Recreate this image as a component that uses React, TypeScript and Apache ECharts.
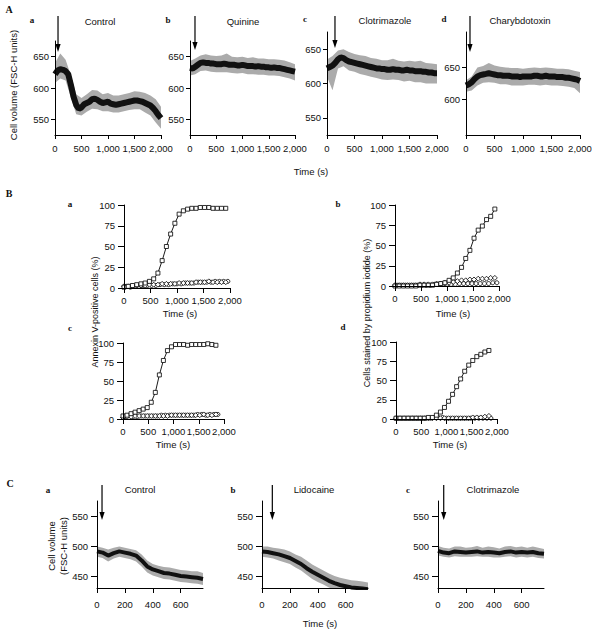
import React, { useEffect, useRef } from 'react';
import * as echarts from 'echarts';

// ---------- Panel A data (cell volume, FSC-H units) ----------
const timesA = [0,50,100,150,200,250,300,350,400,450,500,550,600,650,700,750,800,850,900,950,1000,1050,1100,1150,1200,1250,1300,1350,1400,1450,1500,1550,1600,1650,1700,1750,1800,1850,1900,1950,2000];
const centerAa = [622,628,630,629,627,622,605,586,573,567,569,574,576,578,582,583,581,578,576,577,578,575,574,573,574,575,576,577,578,579,580,580,579,578,576,574,572,568,563,557,552];
const centerAb = [632,631,634,637,640,641,640,640,639,639,638,638,638,639,638,637,637,637,636,636,637,636,635,635,635,634,635,634,634,633,633,632,633,632,632,631,630,629,628,627,626];
const centerAc = [622,624,626,630,635,638,637,634,632,631,630,629,628,627,626,625,624,623,622,622,621,621,620,620,621,620,620,619,619,620,619,619,618,618,618,617,617,616,616,615,615];
const centerAd = [622,624,627,632,636,638,639,640,641,640,639,638,638,637,637,637,636,636,636,635,636,636,636,636,637,637,636,636,637,636,636,636,635,635,635,634,634,633,632,631,629];

const bandTimesA = [0,100,200,300,400,500,600,700,800,900,1000,1100,1200,1300,1400,1500,1600,1700,1800,1900,2000];
const lowAa = [608,615,612,585,558,556,562,567,566,563,563,561,561,563,565,566,566,561,556,545,535];
const highAa = [640,655,645,620,590,584,590,597,596,590,592,588,588,590,592,595,594,592,588,582,570];
const lowAb = [620,622,627,628,626,625,625,625,624,623,624,622,622,621,621,620,620,619,617,615,612];
const highAb = [643,647,652,654,652,651,652,655,650,649,650,648,649,647,647,646,646,645,644,641,638];
const lowAc = [610,590,622,625,619,617,614,612,610,608,606,605,606,605,603,604,602,602,600,600,600];
const highAc = [635,640,648,650,646,643,641,640,637,636,634,634,636,633,632,633,632,633,630,629,628];
const lowAd = [612,614,622,626,627,626,624,624,622,622,622,623,623,622,623,622,622,621,620,618,610];
const highAd = [630,636,650,652,657,653,651,650,649,649,648,649,650,649,650,649,648,648,647,645,643];

const titlesA = ['Control', 'Quinine', 'Clotrimazole', 'Charybdotoxin'];
const arrowTimesA = [57, 95, 145, 70];

// ---------- Panel B data (% cells) ----------
const timesB = [0,80,160,240,320,400,480,560,640,720,800,880,960,1040,1120,1200,1280,1360,1440,1520,1600,1680,1760,1840,1920];
const timesB2 = [40,120,200,280,360,440,520,600,680,760,840,920,1000,1080,1160,1240,1320,1400,1480,1560,1640,1720,1800,1880,1960];
const sqBa = [1,2,3,4,5,6,8,11,18,33,50,65,78,89,93,95,96,96,97,97,97,96,96,96,96];
const diaBa = [2,2,2,3,3,3,4,4,4,5,5,5,5,6,6,6,6,7,7,7,8,7,7,7,7];
const cirBa = [2,1,2,2,3,3,3,3,4,4,4,5,5,5,6,6,6,7,7,7,7,8,8,8,8];
const sqBb = [0,0,0,0,0,0,1,1,1,1,2,3,4,7,10,16,23,34,44,59,69,74,82,86,95];
const diaBb = [1,1,1,1,1,1,2,2,2,2,3,3,4,4,5,6,7,7,8,8,9,9,9,10,10];
const cirBb = [1,1,1,1,1,1,1,1,1,2,2,2,2,2,2,3,3,3,3,3,3,3,3,4,4];
const sqBc = [4,5,7,9,11,13,15,22,35,58,77,90,95,98,98,98,97,98,98,98,98,99,98,97];
const diaBc = [2,3,3,4,4,4,4,4,4,4,4,4,5,5,5,5,5,5,5,5,6,5,5,6];
const cirBc = [3,2,3,3,4,4,4,4,4,5,5,5,5,5,5,5,5,5,6,6,5,6,6,6];
const sqBd = [1,1,1,1,1,1,1,1,2,2,5,9,15,23,32,42,52,62,70,76,81,84,87,89];
const diaBd = [1,1,1,1,1,1,1,1,1,1,1,1,1,1,1,1,1,1,1,2,2,2,3,4];
const cirBd = [1,1,1,1,1,1,1,1,1,2,2,2,1,1,1,1,1,1,1,1,1,1,1,1];

// ---------- Panel C data (cell volume) ----------
const timesC = [0,40,80,120,160,200,240,280,320,360,400,440,480,520,560,600,640,680,720,760];
const centerCa = [491,489,484,488,491,489,487,484,476,466,461,458,455,454,452,450,449,448,447,445];
const lowCa = [482,480,474,479,482,480,478,474,466,456,451,448,445,444,442,440,439,438,437,435];
const highCa = [499,497,494,497,499,497,495,493,486,476,470,467,465,464,462,460,459,458,458,455];
const centerCb = [491,490,488,486,483,480,475,470,463,457,452,447,442,438,435,433,431,430,429,428];
const lowCb = [482,481,479,476,473,470,464,459,452,445,440,436,431,427,424,422,421,420,419,418];
const highCb = [499,499,497,496,494,491,486,482,476,469,464,459,454,450,447,445,443,442,441,439];
const centerCc = [492,489,488,491,490,489,490,491,489,490,489,488,490,491,489,490,489,490,488,487];
const lowCc = [484,482,481,483,482,482,482,483,482,482,481,481,482,483,481,482,481,482,480,479];
const highCc = [500,497,496,499,499,497,498,500,497,499,498,496,499,500,498,499,497,499,497,495];

const titlesC = ['Control', 'Lidocaine', 'Clotrimazole'];
const arrowTimesC = [36, 74, 41];

// ---------- tick values ----------
const ticksAxTime = [0, 500, 1000, 1500, 2000];
const ticksAyVol = [550, 600, 650];
const ticksAdVol = [600, 650];
const ticksBy = [0, 25, 50, 75, 100];
const ticksCx = [0, 200, 400, 600];
const ticksCy = [450, 500, 550];

const FONT = '"Liberation Sans", Arial, Helvetica, sans-serif';
const SERIF = '"Liberation Serif", "Times New Roman", serif';

export default function App() {
  const ref = useRef<HTMLDivElement>(null);
  useEffect(() => {
    document.body.style.margin = '0';
    const chart = echarts.init(ref.current!, null, { renderer: 'svg' });

    const grids = [
      { left: 55, top: 41, width: 106, height: 94 },
      { left: 190, top: 41, width: 105, height: 94 },
      { left: 327, top: 32, width: 110, height: 103 },
      { left: 466, top: 32, width: 114, height: 103 },
      { left: 124, top: 205, width: 106, height: 83 },
      { left: 395, top: 205, width: 104, height: 81 },
      { left: 123, top: 343, width: 101, height: 76 },
      { left: 396, top: 342, width: 101, height: 77 },
      { left: 97, top: 501, width: 106, height: 87 },
      { left: 262, top: 501, width: 106, height: 87 },
      { left: 438, top: 501, width: 106, height: 87 },
    ].map((g) => ({ ...g, outerBoundsMode: 'none', containLabel: false }));

    const axisLine = { show: true, onZero: false, lineStyle: { color: '#000', width: 1 } };
    const fmt = (v: number) => v.toLocaleString('en-US');
    const ax = (gi: number, min: number, max: number, ticks: number[], tickLen: number, margin: number) => ({
      gridIndex: gi, type: 'value', min, max, z: 10,
      axisLine, splitLine: { show: false },
      axisTick: { show: true, length: tickLen, customValues: ticks, lineStyle: { color: '#000', width: 1 } },
      axisLabel: { customValues: ticks, formatter: fmt, fontSize: 9.5, color: '#111', fontFamily: FONT, margin, showMinLabel: true, showMaxLabel: true },
    });

    const xAxis = [
      ax(0, 0, 2000, ticksAxTime, 4, 8), ax(1, 0, 2000, ticksAxTime, 4, 8),
      ax(2, 0, 2000, ticksAxTime, 4, 8), ax(3, 0, 2000, ticksAxTime, 4, 8),
      ax(4, 0, 2000, ticksAxTime, 5, 7), ax(5, 0, 2000, ticksAxTime, 5, 7),
      ax(6, 0, 2000, ticksAxTime, 5, 7), ax(7, 0, 2000, ticksAxTime, 5, 7),
      ax(8, 0, 760, ticksCx, 5, 11), ax(9, 0, 760, ticksCx, 5, 11), ax(10, 0, 760, ticksCx, 5, 11),
    ];
    const yAxis = [
      ax(0, 525, 675, ticksAyVol, 4, 6), ax(1, 525, 675, ticksAyVol, 4, 6),
      ax(2, 525, 675, ticksAyVol, 4, 6), ax(3, 545, 705, ticksAdVol, 4, 6),
      ax(4, 0, 100, ticksBy, 6, 9), ax(5, 0, 100, ticksBy, 6, 9),
      ax(6, 0, 100, ticksBy, 6, 9), ax(7, 0, 100, ticksBy, 6, 9),
      ax(8, 430, 575, ticksCy, 6, 9), ax(9, 430, 575, ticksCy, 6, 9), ax(10, 430, 575, ticksCy, 6, 9),
    ];

    const pairs = (xs: number[], ys: number[]) => ys.map((y, i) => [xs[i], y]);
    const noisy = (gi: number, bandT: number[], low: number[], high: number[], t: number[], c: number[], w: number) => [
      {
        type: 'custom', xAxisIndex: gi, yAxisIndex: gi, silent: true, clip: true,
        data: [[bandT[0], low[0]]],
        renderItem: (_p: any, api: any) => {
          const up = bandT.map((x, i) => api.coord([x, high[i]]));
          const dn = bandT.map((x, i) => api.coord([x, low[i]])).reverse();
          return { type: 'polygon', shape: { points: up.concat(dn) }, style: { fill: '#ababab' } };
        },
      },
      { type: 'line', xAxisIndex: gi, yAxisIndex: gi, data: pairs(t, c), symbol: 'none', silent: true, z: 3, lineStyle: { color: '#111', width: w } },
    ];
    const mk = (gi: number, t: number[], v: number[], symbol: string, size: number, lw: number) => ({
      type: 'line', xAxisIndex: gi, yAxisIndex: gi, data: pairs(t, v), symbol, symbolSize: size, silent: true,
      itemStyle: { color: '#fff', borderColor: '#000', borderWidth: 0.8 },
      lineStyle: { color: '#000', width: lw },
    });
    const bPanel = (gi: number, sq: number[], dia: number[], cir: number[]) => {
      const n = sq.length;
      return [
        mk(gi, timesB2.slice(0, n), cir, 'circle', 4, 0.6),
        mk(gi, timesB.slice(0, n), dia, 'diamond', 5, 0.6),
        mk(gi, timesB.slice(0, n), sq, 'rect', 4, 0.9),
      ];
    };

    const series = [
      ...noisy(0, bandTimesA, lowAa, highAa, timesA, centerAa, 6),
      ...noisy(1, bandTimesA, lowAb, highAb, timesA, centerAb, 6),
      ...noisy(2, bandTimesA, lowAc, highAc, timesA, centerAc, 6),
      ...noisy(3, bandTimesA, lowAd, highAd, timesA, centerAd, 6),
      ...bPanel(4, sqBa, diaBa, cirBa),
      ...bPanel(5, sqBb, diaBb, cirBb),
      ...bPanel(6, sqBc, diaBc, cirBc),
      ...bPanel(7, sqBd, diaBd, cirBd),
      ...noisy(8, timesC, lowCa, highCa, timesC, centerCa, 4),
      ...noisy(9, timesC, lowCb, highCb, timesC, centerCb, 4),
      ...noisy(10, timesC, lowCc, highCc, timesC, centerCc, 4),
    ];

    chart.setOption({ animation: false, backgroundColor: '#fff', grid: grids, xAxis, yAxis, series });

    const txt = (text: string, x: number, y: number, size: number, opts: any = {}) => ({
      type: 'text', x, y, rotation: opts.rotation || 0, silent: true,
      style: {
        text, x: 0, y: 0, fill: '#111',
        font: `${opts.bold ? 'bold ' : ''}${size}px ${opts.serif ? SERIF : FONT}`,
        align: opts.align || 'center', verticalAlign: 'middle',
        textAlign: opts.align || 'center', textVerticalAlign: 'middle',
        lineHeight: opts.lineHeight,
      },
    });
    const arrow = (x: number, y0: number, y1: number) => [
      { type: 'line', silent: true, shape: { x1: x, y1: y0, x2: x, y2: y1 - 6 }, style: { stroke: '#000', lineWidth: 1.2 } },
      { type: 'polygon', silent: true, shape: { points: [[x - 2.6, y1 - 8], [x + 2.6, y1 - 8], [x, y1]] }, style: { fill: '#000' } },
    ];

    const g: any[] = [];
    g.push(txt('A', 9, 9, 10, { bold: true, serif: true }));
    g.push(txt('B', 9, 193, 10, { bold: true, serif: true }));
    g.push(txt('C', 10, 483, 10, { bold: true, serif: true }));
    const lettersA = [[32, 20], [168, 20], [305, 19], [444, 19]];
    const titlePosA = [[100, 21], [243, 21], [385, 20], [520, 20]];
    ['a', 'b', 'c', 'd'].forEach((l, i) => g.push(txt(l, lettersA[i][0], lettersA[i][1], 9, { bold: true, serif: true })));
    titlesA.forEach((t, i) => g.push(txt(t, titlePosA[i][0], titlePosA[i][1], 9.5)));
    g.push(txt('Time (s)', 311, 171, 9.5));
    g.push(txt('Cell volume (FSC-H units)', 13, 85, 9.5, { rotation: Math.PI / 2 }));

    const lettersB = [[70, 204], [338, 204], [70, 328], [343, 327]];
    ['a', 'b', 'c', 'd'].forEach((l, i) => g.push(txt(l, lettersB[i][0], lettersB[i][1], 9, { bold: true, serif: true })));
    [[180, 313], [453, 313], [173, 444], [450, 444]].forEach((p) => g.push(txt('Time (s)', p[0], p[1], 9.5)));
    g.push(txt('Annexin V-positive cells (%)', 95, 312, 9, { rotation: Math.PI / 2 }));
    g.push(txt('Cells stained by propidium iodide (%)', 367, 313, 9, { rotation: Math.PI / 2 }));

    const lettersC = [[48, 490], [233, 490], [408, 490]];
    const titlePosC = [[140, 489], [314, 489], [493, 489]];
    ['a', 'b', 'c'].forEach((l, i) => g.push(txt(l, lettersC[i][0], lettersC[i][1], 9, { bold: true, serif: true })));
    titlesC.forEach((t, i) => g.push(txt(t, titlePosC[i][0], titlePosC[i][1], 9.5)));
    g.push(txt('Time (s)', 320, 623, 9.5));
    g.push(txt('Cell volume\n(FSC-H units)', 57, 546, 9.5, { rotation: Math.PI / 2, lineHeight: 12 }));

    const arrowYA = [[16, 52], [16, 50], [16, 48], [16, 52]];
    arrowTimesA.forEach((t, i) => {
      const x = chart.convertToPixel({ xAxisIndex: i } as any, t) as unknown as number;
      g.push(...arrow(x, arrowYA[i][0], arrowYA[i][1]));
    });
    arrowTimesC.forEach((t, i) => {
      const x = chart.convertToPixel({ xAxisIndex: 8 + i } as any, t) as unknown as number;
      g.push(...arrow(x, 485, 520));
    });

    chart.setOption({ graphic: g });
    return () => chart.dispose();
  }, []);
  return <div ref={ref} style={{ width: 600, height: 635 }} />;
}
